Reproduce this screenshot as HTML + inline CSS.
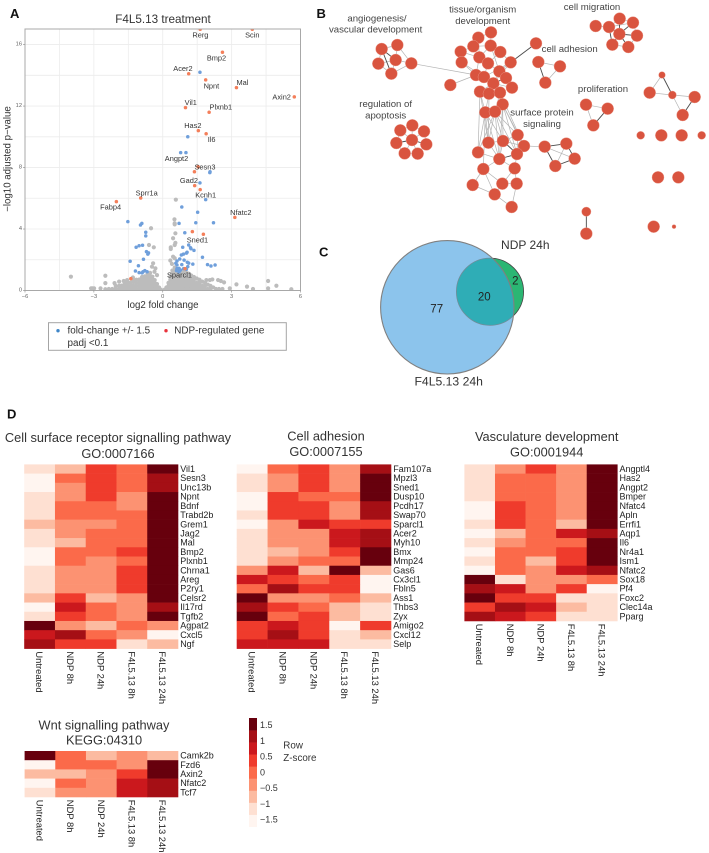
<!DOCTYPE html>
<html lang="en">
<head>
<meta charset="utf-8">
<title>F4L5.13 treatment figure</title>
<style>
html,body{margin:0;padding:0;background:#fff;width:709px;height:853px;overflow:hidden}
svg{display:block;filter:blur(.35px)}
text{font-family:"Liberation Sans",sans-serif;dominant-baseline:central}
</style>
</head>
<body>
<svg id="fig" xmlns="http://www.w3.org/2000/svg" width="709" height="853" viewBox="0 0 709 853">
  <defs>
    <clipPath id="plot-clip"><rect x="25" y="29" width="275.5" height="261.5"/></clipPath>
    <clipPath id="venn-big-clip"><circle cx="447.3" cy="307.3" r="66.7"/></clipPath>
  </defs>
  <text x="10" y="13.5" font-size="13" font-weight="bold" fill="#111">A</text>
  <text x="316.5" y="13.5" font-size="13" font-weight="bold" fill="#111">B</text>
  <text x="319" y="252" font-size="13" font-weight="bold" fill="#111">C</text>
  <text x="7" y="414" font-size="13" font-weight="bold" fill="#111">D</text>

  <g id="volcano"></g>
  <text x="163" y="19.5" font-size="11.7" text-anchor="middle" fill="#333">F4L5.13 treatment</text>
  <text x="163" y="305.5" font-size="9.7" text-anchor="middle" fill="#333">log2 fold change</text>
  <text transform="translate(8,159) rotate(-90)" font-size="9.7" text-anchor="middle" fill="#333">−log10 adjusted p−value</text>

  <g>
    <rect x="48.5" y="322.7" width="237.8" height="27.6" fill="#fff" stroke="#a5a5a5" stroke-width="1"/>
    <circle cx="58" cy="330.7" r="1.7" fill="#3f86c8"/>
    <text x="67.5" y="331" font-size="9.9" fill="#333">fold-change +/- 1.5</text>
    <text x="67.5" y="343.5" font-size="9.9" fill="#333">padj &lt;0.1</text>
    <circle cx="166" cy="330.7" r="1.7" fill="#e8323c"/>
    <text x="174.3" y="331" font-size="9.9" fill="#333">NDP-regulated gene</text>
  </g>

  <g id="network"></g>

  <g>
    <circle cx="490" cy="291.7" r="33.6" fill="#2bb673" stroke="#444" stroke-width=".8"/>
    <circle cx="447.3" cy="307.3" r="66.7" fill="#8cc4ec"/>
    <circle cx="490" cy="291.7" r="33.6" fill="#2fadb6" stroke="#6f8d9a" stroke-width=".8" clip-path="url(#venn-big-clip)"/>
    <circle cx="447.3" cy="307.3" r="66.7" fill="none" stroke="#808080" stroke-width="1.1"/>
    <text x="525.3" y="245" font-size="12" text-anchor="middle" fill="#333">NDP 24h</text>
    <text x="448.7" y="381.7" font-size="12.2" text-anchor="middle" fill="#333">F4L5.13 24h</text>
    <text x="436.7" y="309.3" font-size="11.5" text-anchor="middle" fill="#222">77</text>
    <text x="484.3" y="297.7" font-size="11.5" text-anchor="middle" fill="#222">20</text>
    <text x="515.3" y="281.7" font-size="11.5" text-anchor="middle" fill="#222">2</text>
  </g>

  <g id="heatmaps"></g>
  <g id="zlegend"></g>
  <text x="283.3" y="746" font-size="9.8" fill="#333">Row</text>
  <text x="283.3" y="758.7" font-size="9.8" fill="#333">Z-score</text>
</svg>

<script>
// ---------- Volcano data (log2 fold change, -log10 padj) ----------
const ndpGenes = [
  [1.63,17],[3.9,17],[2.6,15.5],[1.13,14.1],[1.87,13.7],[3.21,13.2],[5.73,12.6],[0.99,11.9],[2.02,11.6],
  [1.55,10.4],[1.89,10.2],[1.54,8.05],[1.38,7.73],[1.39,6.82],[1.63,6.56],[-0.96,6.02],[-2.02,5.78],
  [3.14,4.76],[1.29,3.83],[1.77,3.66],[-1.39,0.77],[0.97,1.42]
];
const changedGenes = [
  [1.62,14.2],[1.09,10],[0.78,8.97],[1.01,8.97],[2.06,7.73],[2.05,7.67],[1.62,7],[1.87,5.91],[0.83,5.43],
  [1.52,5.09],[0.71,4.37],[1.44,4.41],[2.21,4.41],[-1.52,4.48],[-0.91,4.37],[-0.97,4.26],[-0.74,3.79],
  [-0.74,3.55],[-0.88,2.94],[-1.03,2.91],[-1.16,2.81],[-0.71,2.53],[-0.65,2.37],[-0.62,2.45],[-0.84,2.03],
  [-1.42,1.9],[-1.06,1.61],[-1.19,1.27],[-1.03,1.16],[-0.86,1.22],[-0.78,1.29],[-0.68,1.22],[-0.9,1.15],
  [0.96,3.76],[1.13,2.96],[1.21,2.78],[1.23,2.72],[1.36,2.61],[0.87,2.81],[1.06,2.49],[1.03,2.43],[0.9,2.37],
  [0.81,2.31],[0.74,2.05],[0.62,1.92],[1.73,2.16],[1.07,1.84],[1.13,1.78],[0.93,1.98],[1.31,1.72],[1.95,1.68],
  [2.1,1.59],[2.28,1.66],[0.57,1.77],[0.62,1.66],[0.83,1.68],[0.71,1.44],[0.62,1.42],[0.77,1.33],[0.6,1.29],
  [0.71,1.22],[1.09,1.55],[1.03,1.38],[0.91,1.42]
];
const otherGenes = [
  [-4,0.9],[-2.5,0.96],[-2.5,0.48],[-3.06,0.14],[-2.99,0.14],[-3.12,0.14],[-2.71,0.14],[-2.5,0.08],[-0.51,4.05],
  [-0.6,2.96],[-0.39,2.81],[0.52,4.37],[0.55,3.72],[0.45,3.4],[0.55,3.1],[0.35,2.81],[0.35,2.7],[0.52,2.96],
  [0.57,5.91],[0.51,4.63],[0.52,4.3],[0.45,2.2],[0.33,1.95],[0.52,2.1],[0.4,1.73],[-0.32,1.44],[-0.42,1.77],
  [-0.47,1.55],[-0.36,1.22],[-0.25,1],[3.21,0.4],[4.59,0.62],[4.95,0.31],[4.59,0.14],[5.6,0.08],[3.67,0.25],
  [3.93,0.1],[2.92,0.14],[2.41,0.68],[2.53,0.62],[2.67,0.53],[2.6,0.1],[1.9,0.68],[2.05,0.68],[2.16,0.72],
  [-2.35,0.1],[-2.2,0.1],[-2.05,0.12],[-2.05,0.3],[-1.9,0.1],[-1.9,0.3],[-1.78,0.12],[-1.78,0.32],[-1.65,0.1],
  [-1.65,0.3],[-1.65,0.48],[-1.52,0.12],[-1.52,0.3],[-1.52,0.5],[-1.4,0.1],[-1.4,0.3],[-1.4,0.52],[-1.28,0.12],
  [-1.28,0.32],[-1.28,0.55],[-1.28,0.7],[-1.15,0.1],[-1.15,0.3],[-1.15,0.5],[-1.15,0.7],[-1.02,0.12],[-1.02,0.32],
  [-1.02,0.52],[-1.02,0.72],[-0.9,0.1],[-0.9,0.3],[-0.9,0.5],[-0.9,0.7],[-0.9,0.88],[-0.78,0.12],[-0.78,0.32],
  [-0.78,0.52],[-0.78,0.72],[-0.78,0.92],[-0.66,0.1],[-0.66,0.3],[-0.66,0.5],[-0.66,0.7],[-0.66,0.9],[-0.66,1.1],
  [-0.55,0.12],[-0.55,0.32],[-0.55,0.52],[-0.55,0.72],[-0.55,0.95],[-0.55,1.15],[-0.45,0.1],[-0.45,0.3],[-0.45,0.5],
  [-0.45,0.7],[-0.45,0.9],[-0.35,0.1],[-0.35,0.3],[-0.35,0.5],[-0.35,0.68],[-0.25,0.08],[-0.25,0.25],[-0.25,0.42],
  [-0.16,0.05],[-0.16,0.2],[-0.08,0.05],[-2.1,0.48],[-1.9,0.58],[-1.7,0.62],[-1.55,0.68],[-1.3,0.85],
  [0.08,0.05],[0.16,0.05],[0.16,0.2],[0.25,0.08],[0.25,0.3],[0.25,0.5],[0.33,0.1],[0.33,0.3],[0.33,0.5],[0.33,0.7],
  [0.33,0.9],[0.42,0.1],[0.42,0.3],[0.42,0.5],[0.42,0.7],[0.42,0.9],[0.42,1.1],[0.42,1.3],[0.52,0.1],[0.52,0.3],
  [0.52,0.5],[0.52,0.7],[0.52,0.9],[0.52,1.1],[0.52,1.3],[0.52,1.5],[0.64,0.1],[0.64,0.3],[0.64,0.5],[0.64,0.7],
  [0.64,0.9],[0.64,1.1],[0.64,1.35],[0.76,0.1],[0.76,0.3],[0.76,0.5],[0.76,0.7],[0.76,0.9],[0.76,1.1],[0.76,1.3],
  [0.88,0.1],[0.88,0.3],[0.88,0.5],[0.88,0.7],[0.88,0.9],[0.88,1.1],[0.88,1.28],[1,0.1],[1,0.3],[1,0.5],[1,0.7],
  [1,0.9],[1,1.2],[1.12,0.1],[1.12,0.3],[1.12,0.5],[1.12,0.7],[1.12,0.9],[1.12,1.1],[1.24,0.1],[1.24,0.3],[1.24,0.5],
  [1.24,0.7],[1.24,0.98],[1.36,0.1],[1.36,0.3],[1.36,0.5],[1.36,0.7],[1.36,0.88],[1.48,0.1],[1.48,0.3],[1.48,0.5],
  [1.48,0.78],[1.6,0.1],[1.6,0.3],[1.6,0.5],[1.6,0.7],[1.72,0.1],[1.72,0.3],[1.72,0.58],[1.84,0.1],[1.84,0.3],
  [1.84,0.5],[1.96,0.1],[1.96,0.38],[2.08,0.1],[2.08,0.3],[2.2,0.2],[2.32,0.1],[2.45,0.1]
];
const geneLabels = ['Rerg','Scin','Bmp2','Acer2','Npnt','Mal','Axin2','Vil1','Plxnb1','Has2','Il6','Angpt2','Sesn3','Gad2','Kcnh1','Sprr1a','Fabp4','Nfatc2','Sned1','Sparcl1'];
const geneLabelX = [1.64,3.9,2.34,0.88,2.12,3.47,5.18,1.22,2.53,1.31,2.13,0.6,1.84,1.14,1.87,-0.7,-2.27,3.4,1.51,0.73];
const geneLabelY = [16.62,16.62,15.13,14.43,13.32,13.52,12.6,12.22,11.94,10.75,9.84,8.58,8.05,7.17,6.21,6.34,5.42,5.09,3.29,1.01];
const xTicks = [-6,-3,0,3,6];
const yTicks = [0,4,8,12,16];
const xGrid = [-4.5,-3,-1.5,0,1.5,3,4.5];
const yGrid = [2,4,6,8,10,12,14,16];

// ---------- Network (layout units, 3x panel scale): x, y, radius ----------
const netNodes = [
  [215,147],[262,135],[205,191],[257,180],[304,190],[244,221],
  [307,376],[271,391],[342,394],[259,429],[349,433],[306,420],[284,460],[323,461],
  [543,97],[505,113],[490,139],[542,137],[452,155],[571,156],[508,172],[455,187],[534,190],[602,187],[678,130],
  [568,214],[498,225],[522,231],[421,255],[588,234],[550,250],[606,263],[510,275],[537,281],[570,278],[578,313],[526,337],[555,335],
  [623,405],[535,428],[579,423],[642,438],[504,457],[568,477],[621,462],[520,507],[614,505],[488,555],[577,551],[620,551],[554,583],[605,621],
  [704,440],[769,431],[794,476],[736,498],
  [857,78],[897,81],[929,56],[969,68],[981,107],[928,102],[907,134],[955,141],
  [685,186],[750,199],[706,248],
  [828,314],[893,326],[850,376],
  [1056,225,10],[1019,278],[1087,285,12],[1154,291],[1118,345],
  [992,406,12],[1054,406],[1115,406],[1175,406,12],[1044,532],[1105,532],[829,635,14],[829,701],[1031,680],[1092,680,6]
];
const netLightEdges = [
  [0,1],[0,2],[1,3],[1,4],[2,3],[2,5],[3,4],[3,5],[4,5],[4,26],
  [6,7],[6,8],[7,9],[8,10],[9,12],[10,13],[12,13],[11,6],[11,7],[11,8],[11,12],[11,13],
  [14,15],[14,17],[15,16],[15,20],[16,17],[16,18],[17,19],[17,20],[18,20],[18,21],[19,22],[19,23],[20,22],[20,26],[21,26],
  [22,25],[22,27],[23,25],[23,27],[23,30],[21,27],[17,25],[25,29],[25,30],[26,27],[26,28],[27,30],[29,31],[30,31],[30,32],
  [30,33],[30,34],[32,33],[33,34],[34,35],[32,36],[33,36],[34,37],[35,37],[36,37],[35,38],[36,39],[36,40],[36,42],[37,39],
  [37,40],[37,38],[35,40],[35,41],[36,43],[37,43],[37,44],[36,45],[35,44],[37,42],[33,39],[32,42],[32,39],[34,41],[35,43],
  [38,40],[38,41],[38,44],[39,40],[39,43],[40,41],[40,43],[41,44],[42,43],[43,45],[43,46],[44,46],[45,47],[45,48],[45,50],
  [46,48],[46,49],[48,49],[48,50],[49,51],[50,51],[47,50],[41,52],
  [52,54],[53,55],[56,57],[57,58],[58,59],[59,60],[60,63],[57,59],[62,63],[64,65],[65,66],[67,68],[67,69],[70,71],[71,72],[72,73],[72,74]
];
const netDarkEdges = [
  [0,3],[0,5],[9,11],[10,11],[23,24],[29,30],[40,44],[43,44],[52,53],[52,55],[53,54],[54,55],[57,61],[57,62],[58,61],[59,61],
  [60,61],[61,62],[61,63],[64,66],[68,69],[70,72],[73,74],[81,82]
];
const netLabels = ['angiogenesis/','vascular development','tissue/organism','development','cell migration','cell adhesion','proliferation','regulation of','apoptosis','surface protein','signaling'];
const netLabelX = [201,197,518,518,846,779,879,227,227,696,696];
const netLabelY = [57,90,30,65,22,148,268,313,348,339,374];

// ---------- Heatmap data (row Z-scores) ----------
const conditions = ['Untreated','NDP 8h','NDP 24h','F4L5.13 8h','F4L5.13 24h'];
const surfaceGenes = ['Vil1','Sesn3','Unc13b','Npnt','Bdnf','Trabd2b','Grem1','Jag2','Mal','Bmp2','Plxnb1','Chrna1','Areg','P2ry1','Celsr2','Il17rd','Tgfb2','Agpat2','Cxcl5','Ngf'];
const surfaceZ = [
  [-1.1,-.8,.4,0,1.5],[-1.5,0,.4,0,1.1],[-1.5,-.4,.4,0,1.1],[-1.1,-.4,.4,-.4,1.5],[-1.1,0,0,-.4,1.5],
  [-1.1,0,0,0,1.5],[-.8,-.4,-.4,0,1.5],[-1.1,-.4,0,0,1.5],[-1.1,-.8,0,0,1.5],[-1.5,0,0,.4,1.5],
  [-1.5,0,-.4,0,1.5],[-1.1,-.4,-.4,.4,1.5],[-1.1,-.4,-.4,.4,1.5],[-1.1,-.4,-.4,.4,1.5],[-.8,.4,-.8,-.4,1.5],
  [-1.5,.8,0,-.4,1.1],[-1.1,.4,0,-.4,1.5],[1.5,-.4,-.8,0,-.4],[.8,1.1,0,-.4,-1.5],[1.1,.4,.4,-1.1,-.8]
];
const adhesionGenes = ['Fam107a','Mpzl3','Sned1','Dusp10','Pcdh17','Swap70','Sparcl1','Acer2','Myh10','Bmx','Mmp24','Gas6','Cx3cl1','Fbln5','Ass1','Thbs3','Zyx','Amigo2','Cxcl12','Selp'];
const adhesionZ = [
  [-1.5,0,.4,-.4,1.1],[-1.1,-.4,.4,-.4,1.5],[-1.1,-.4,.4,-.4,1.5],[-1.5,.4,0,0,1.5],[-1.5,.4,.4,-.4,1.1],
  [-1.1,.4,.4,-.4,1.1],[-1.5,-.4,.8,.4,.4],[-1.1,-.4,-.4,.8,1.1],[-1.1,-.4,-.4,.8,1.1],[-1.1,-.8,-.4,.4,1.5],
  [-1.1,-.4,0,0,1.5],[-.4,.8,-.8,1.5,-.8],[.8,.4,0,.4,-1.5],[0,1.1,.4,.4,-1.5],[1.5,-.4,-.4,0,-.8],
  [1.1,.4,0,-.8,-1.1],[1.5,0,.4,-.8,-1.1],[.4,.8,.4,-1.5,.4],[.4,1.1,.4,-1.1,-.8],[.8,.8,.8,-1.1,-1.1]
];
const vascGenes = ['Angptl4','Has2','Angpt2','Bmper','Nfatc4','Apln','Errfi1','Aqp1','Il6','Nr4a1','Ism1','Nfatc2','Sox18','Pf4','Foxc2','Clec14a','Pparg'];
const vascZ = [
  [-1.1,-.4,.4,-.4,1.5],[-1.1,0,0,-.4,1.5],[-1.1,0,0,-.4,1.5],[-1.1,0,0,-.4,1.5],[-1.5,.4,0,-.4,1.5],
  [-1.5,.4,0,-.4,1.5],[-1.1,.4,0,-.8,1.5],[-1.5,-.8,0,.8,1.1],[-1.1,-.4,0,0,1.5],[-1.5,0,0,.4,1.5],
  [-1.1,0,-.8,.4,1.5],[-1.5,0,-.4,.8,1.1],[1.5,-1.1,-.4,-.4,0],[1.1,.8,-.4,.4,-1.5],[1.5,.4,.4,-1.1,-1.1],
  [.4,1.1,.8,-.8,-1.1],[1.1,.8,.4,-1.1,-1.1]
];
const wntGenes = ['Camk2b','Fzd6','Axin2','Nfatc2','Tcf7'];
const wntZ = [
  [1.5,0,-.8,-.4,-.8],[-1.5,0,0,-.4,1.5],[-.8,-.8,-.4,.4,1.5],[-1.5,0,-.4,.8,1.1],[-1.1,-.4,-.4,.8,1.1]
];
const redsPalette = ['#FFF5F0','#FEE0D2','#FCBBA1','#FC9272','#FB6A4A','#EF3B2C','#CB181D','#A50F15','#67000D'];
const zTicks = [1.5,1,0.5,0,-0.5,-1,-1.5];
const zMin = -1.72;
const zMax = 1.72;

// ---------- Drawing ----------
const NS = 'http://www.w3.org/2000/svg';
function make(tag, parent) {
  const el = document.createElementNS(NS, tag);
  parent.appendChild(el);
  return el;
}
function minus(v) { return String(v).replace('-', '−'); }

// Volcano axes
const plotL = 25, plotR = 300.5, plotT = 29, plotB = 290.5;
function vx(v) { return plotL + (v + 6) / 12 * (plotR - plotL); }
function vy(v) { return plotB - v * 15.37; }
const volcano = document.getElementById('volcano');

xGrid.forEach(function (v) {
  const g = make('line', volcano);
  
  
  g.setAttribute('x1', vx(v)); g.setAttribute('x2', vx(v));
  g.setAttribute('y1', plotT); g.setAttribute('y2', plotB);
  g.setAttribute('stroke', '#ececec'); g.setAttribute('stroke-width', '.8');
});
yGrid.forEach(function (v) {
  const g = make('line', volcano);
  
  
  g.setAttribute('x1', plotL); g.setAttribute('x2', plotR);
  g.setAttribute('y1', vy(v)); g.setAttribute('y2', vy(v));
  g.setAttribute('stroke', '#ececec'); g.setAttribute('stroke-width', '.8');
});

const pointLayer = make('g', volcano);


pointLayer.setAttribute('clip-path', 'url(#plot-clip)');

otherGenes.forEach(function (p) {
  const c = make('circle', pointLayer);
  
  
  c.setAttribute('cx', vx(p[0])); c.setAttribute('cy', vy(p[1]));
  c.setAttribute('r', '2.1'); c.setAttribute('fill', '#bcbcbc');
});
changedGenes.forEach(function (p) {
  const c = make('circle', pointLayer);
  
  
  c.setAttribute('cx', vx(p[0])); c.setAttribute('cy', vy(p[1]));
  c.setAttribute('r', '1.75'); c.setAttribute('fill', '#6f9fdb');
});
ndpGenes.forEach(function (p) {
  const c = make('circle', pointLayer);
  
  
  c.setAttribute('cx', vx(p[0])); c.setAttribute('cy', vy(p[1]));
  c.setAttribute('r', '1.75'); c.setAttribute('fill', '#f47f5a');
});

const frame = make('rect', volcano);


frame.setAttribute('x', plotL); frame.setAttribute('y', plotT);
frame.setAttribute('width', plotR - plotL); frame.setAttribute('height', plotB - plotT);
frame.setAttribute('fill', 'none'); frame.setAttribute('stroke', '#a8a8a8'); frame.setAttribute('stroke-width', '1');

xTicks.forEach(function (v) {
  const tm = make('line', volcano);
  
  
  tm.setAttribute('x1', vx(v)); tm.setAttribute('x2', vx(v));
  tm.setAttribute('y1', plotB); tm.setAttribute('y2', plotB + 2);
  tm.setAttribute('stroke', '#888'); tm.setAttribute('stroke-width', '.6');
  const t = make('text', volcano);
  
  
  t.setAttribute('x', vx(v)); t.setAttribute('y', plotB + 6.3);
  t.setAttribute('font-size', '5.7'); t.setAttribute('fill', '#666'); t.setAttribute('text-anchor', 'middle');
  t.textContent = minus(v);
});
yTicks.forEach(function (v) {
  const tm = make('line', volcano);
  
  
  tm.setAttribute('x1', plotL - 2); tm.setAttribute('x2', plotL);
  tm.setAttribute('y1', vy(v)); tm.setAttribute('y2', vy(v));
  tm.setAttribute('stroke', '#888'); tm.setAttribute('stroke-width', '.6');
  const t = make('text', volcano);
  
  
  t.setAttribute('x', plotL - 3); t.setAttribute('y', vy(v));
  t.setAttribute('font-size', '5.7'); t.setAttribute('fill', '#666'); t.setAttribute('text-anchor', 'end');
  t.textContent = v;
});
geneLabels.forEach(function (name, i) {
  const t = make('text', volcano);
  
  
  t.setAttribute('x', vx(geneLabelX[i])); t.setAttribute('y', vy(geneLabelY[i]));
  t.setAttribute('font-size', '7.4'); t.setAttribute('fill', '#333'); t.setAttribute('text-anchor', 'middle');
  t.textContent = name;
});

// Network
function nx(v) { return 310 + v / 3; }
function ny(v) { return v / 3; }
const network = document.getElementById('network');
netLightEdges.forEach(function (e) {
  const l = make('line', network);
  
  
  l.setAttribute('x1', nx(netNodes[e[0]][0])); l.setAttribute('y1', ny(netNodes[e[0]][1]));
  l.setAttribute('x2', nx(netNodes[e[1]][0])); l.setAttribute('y2', ny(netNodes[e[1]][1]));
  l.setAttribute('stroke', '#b4b4b4'); l.setAttribute('stroke-width', '.7');
});
netDarkEdges.forEach(function (e) {
  const l = make('line', network);
  
  
  l.setAttribute('x1', nx(netNodes[e[0]][0])); l.setAttribute('y1', ny(netNodes[e[0]][1]));
  l.setAttribute('x2', nx(netNodes[e[1]][0])); l.setAttribute('y2', ny(netNodes[e[1]][1]));
  l.setAttribute('stroke', '#4a4a4a'); l.setAttribute('stroke-width', '.9');
});
netNodes.forEach(function (n) {
  const c = make('circle', network);
  
  
  c.setAttribute('cx', nx(n[0])); c.setAttribute('cy', ny(n[1]));
  c.setAttribute('r', (n[2] || 18) / 3);
  c.setAttribute('fill', '#d9543f'); c.setAttribute('stroke', '#ee9e90'); c.setAttribute('stroke-width', '.4');
});
netLabels.forEach(function (label, i) {
  const t = make('text', network);
  
  
  t.setAttribute('x', nx(netLabelX[i])); t.setAttribute('y', ny(netLabelY[i]));
  t.setAttribute('font-size', '9.6'); t.setAttribute('fill', '#444'); t.setAttribute('text-anchor', 'middle');
  t.textContent = label;
});

// Heatmaps
const binCount = redsPalette.length;
function zColor(z) {
  let i = Math.floor((z - zMin) / (zMax - zMin) * binCount);
  if (i < 0) i = 0;
  if (i >= binCount) i = binCount - 1;
  return redsPalette[i];
}
const heatLayer = document.getElementById('heatmaps');
function drawHeatmap(name, title, subtitle, genes, matrix, left, right, top, rowH, titleX, titleY, subY) {
  const g = make('g', heatLayer);
  
  
  const colW = (right - left) / conditions.length;
  const t1 = make('text', g);
  
  
  t1.setAttribute('x', titleX); t1.setAttribute('y', titleY);
  t1.setAttribute('font-size', '12.8'); t1.setAttribute('fill', '#333'); t1.setAttribute('text-anchor', 'middle');
  t1.textContent = title;
  const t2 = make('text', g);
  
  
  t2.setAttribute('x', titleX); t2.setAttribute('y', subY);
  t2.setAttribute('font-size', '12.8'); t2.setAttribute('fill', '#333'); t2.setAttribute('text-anchor', 'middle');
  t2.textContent = subtitle;
  matrix.forEach(function (row, r) {
    row.forEach(function (z, c) {
      const cell = make('rect', g);
      
      
      cell.setAttribute('x', left + c * colW); cell.setAttribute('y', top + r * rowH);
      cell.setAttribute('width', colW + .3); cell.setAttribute('height', rowH + .3);
      cell.setAttribute('fill', zColor(z));
    });
    const lab = make('text', g);
    
    
    lab.setAttribute('x', right + 2.2); lab.setAttribute('y', top + (r + .5) * rowH);
    lab.setAttribute('font-size', '9'); lab.setAttribute('fill', '#222');
    lab.textContent = genes[r];
  });
  const bottom = top + matrix.length * rowH;
  conditions.forEach(function (cond, c) {
    const lab = make('text', g);
    
    
    lab.setAttribute('transform', 'translate(' + (left + (c + .5) * colW) + ',' + (bottom + 2.8) + ') rotate(90)');
    lab.setAttribute('font-size', '9.4'); lab.setAttribute('fill', '#222');
    lab.textContent = cond;
  });
}
drawHeatmap('heatmap-cell-surface', 'Cell surface receptor signalling pathway', 'GO:0007166', surfaceGenes, surfaceZ, 24.2, 178, 464.4, 9.21, 118, 437.7, 453.3);
drawHeatmap('heatmap-cell-adhesion', 'Cell adhesion', 'GO:0007155', adhesionGenes, adhesionZ, 236.7, 391, 464.4, 9.21, 326, 436, 451.3);
drawHeatmap('heatmap-vasculature', 'Vasculature development', 'GO:0001944', vascGenes, vascZ, 464.4, 617.3, 464.4, 9.21, 546.7, 436.7, 452);
drawHeatmap('heatmap-wnt', 'Wnt signalling pathway', 'KEGG:04310', wntGenes, wntZ, 24.6, 178, 751, 9.2, 104, 725, 740);

// Z-score legend
const zLayer = document.getElementById('zlegend');
const barTop = 718, barBottom = 826.7, barL = 249, barW = 8;
function zy(v) { return barBottom - (v - zMin) / (zMax - zMin) * (barBottom - barTop); }
redsPalette.forEach(function (col, i) {
  const seg = make('rect', zLayer);
  
  
  const h = (barBottom - barTop) / binCount;
  seg.setAttribute('x', barL); seg.setAttribute('y', barBottom - (i + 1) * h);
  seg.setAttribute('width', barW); seg.setAttribute('height', h + .3);
  seg.setAttribute('fill', col);
});
zTicks.forEach(function (v) {
  const t = make('text', zLayer);
  
  
  t.setAttribute('x', 260); t.setAttribute('y', zy(v));
  t.setAttribute('font-size', '9'); t.setAttribute('fill', '#333');
  t.textContent = minus(v);
});
</script>
</body>
</html>
